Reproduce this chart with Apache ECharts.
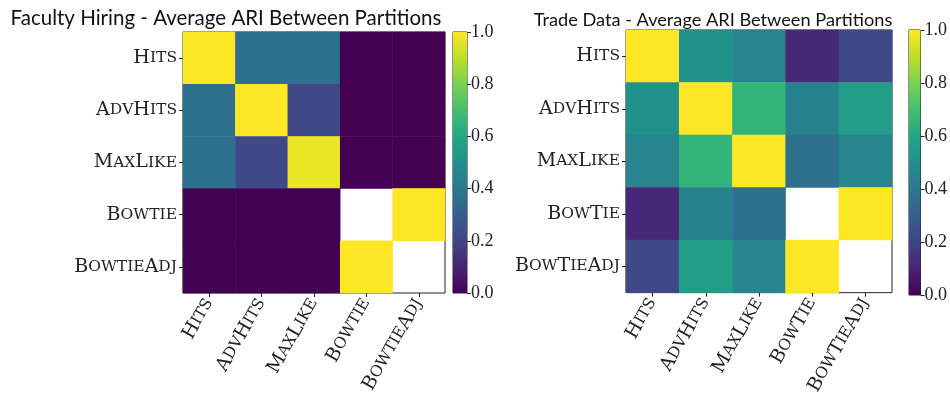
<!DOCTYPE html>
<html><head><meta charset="utf-8">
<script src="https://cdn.jsdelivr.net/npm/echarts@6/dist/echarts.min.js"></script>
<style>html,body{margin:0;padding:0;background:#fff}#c{width:950px;height:398px}</style>
</head><body><div id="c"></div>
<script>
const leftTitle = 'Faculty Hiring - Average ARI Between Partitions';
const rightTitle = 'Trade Data - Average ARI Between Partitions';
const leftLabels = ['Hits','AdvHits','MaxLike','Bowtie','BowtieAdj'];
const rightLabels = ['Hits','AdvHits','MaxLike','BowTie','BowTieAdj'];
const leftMatrix = [
  [1.00, 0.37, 0.37, 0.00, 0.00],
  [0.37, 1.00, 0.22, 0.00, 0.00],
  [0.37, 0.22, 0.97, 0.00, 0.00],
  [0.00, 0.00, 0.00, null, 1.00],
  [0.00, 0.00, 0.00, 1.00, null]
];
const rightMatrix = [
  [1.00, 0.50, 0.45, 0.11, 0.22],
  [0.50, 1.00, 0.65, 0.44, 0.55],
  [0.45, 0.65, 1.00, 0.37, 0.45],
  [0.11, 0.44, 0.37, null, 1.00],
  [0.22, 0.55, 0.45, 1.00, null]
];
const colorbarTicks = [0.0, 0.2, 0.4, 0.6, 0.8, 1.0];
const viridis = ['#440154','#482475','#414487','#355f8d','#2a788e','#21918c','#22a884','#44bf70','#7ad151','#bddf26','#fde725'];

function smallCaps(s){
  let out='';
  for(const ch of s){
    if(ch>='A'&&ch<='Z') out+='{b|'+ch+'}';
    else out+='{s|'+ch.toUpperCase()+'}';
  }
  return out;
}
const serif = 'DejaVu Serif';
const rich = {
  b:{fontFamily:serif,fontSize:19,color:'#222'},
  s:{fontFamily:serif,fontSize:15.5,color:'#222'},
  n:{fontFamily:'Liberation Serif',fontSize:18,color:'#222'}
};

function toData(m){
  const d=[];
  m.forEach((row,i)=>row.forEach((v,j)=>d.push([j,i,v===null?'-':v])));
  return d;
}
const grids = [
  {left:183, top:32, width:262, height:261},
  {left:453, top:32, width:14, height:261},
  {left:626, top:30, width:266, height:265},
  {left:909, top:30, width:14, height:265}
];
const tickStyle = {show:true, length:4, inside:false, lineStyle:{color:'#222', width:1}};
const xAxis=[], yAxis=[], series=[];
[[leftLabels,leftMatrix,0],[rightLabels,rightMatrix,2]].forEach(([labels,m,gi],k)=>{
  xAxis.push({type:'category', gridIndex:gi, data:labels, axisLine:{show:false}, axisTick:Object.assign({alignWithLabel:true},tickStyle), splitLine:{show:false},
    axisLabel:{rotate:60, margin:7, interval:0, fontFamily:serif, formatter:v=>smallCaps(v), rich}});
  yAxis.push({type:'category', gridIndex:gi, data:labels, inverse:true, axisLine:{show:false}, axisTick:Object.assign({alignWithLabel:true},tickStyle), splitLine:{show:false},
    axisLabel:{margin:6, interval:0, fontFamily:serif, formatter:v=>smallCaps(v), rich}});
  series.push({type:'heatmap', xAxisIndex:xAxis.length-1, yAxisIndex:yAxis.length-1, data:toData(m), itemStyle:{borderWidth:0}, emphasis:{disabled:true}, animation:false});
});
[1,3].forEach(gi=>{
  xAxis.push({type:'category', gridIndex:gi, data:['c'], show:false});
  yAxis.push({type:'value', gridIndex:gi, min:0, max:1, interval:0.2, position:'right', splitLine:{show:false},
    axisLine:{show:false}, axisTick:tickStyle,
    axisLabel:{margin:4, fontFamily:'Liberation Serif', fontSize:18, color:'#222', formatter:v=>'{n|'+v.toFixed(1)+'}', rich}});
  series.push({type:'bar', xAxisIndex:xAxis.length-1, yAxisIndex:yAxis.length-1, data:[1], barWidth:'100%', silent:true, animation:false,
    itemStyle:{color:{type:'linear',x:0,y:1,x2:0,y2:0,colorStops:viridis.map((c,i)=>({offset:i/(viridis.length-1),color:c}))}}});
});
const chart = echarts.init(document.getElementById('c'), null, {renderer:'canvas'});
chart.setOption({
  animation:false,
  textStyle:{fontFamily:serif},
  title:[
    {text:leftTitle, left:221, top:3, textAlign:'center', textStyle:{fontFamily:'Lato', fontWeight:'normal', fontSize:20.5, color:'#111'}},
    {text:rightTitle, left:708, top:6, textAlign:'center', textStyle:{fontFamily:'Lato', fontWeight:'normal', fontSize:18.2, color:'#111'}}
  ],
  grid: grids.map(g=>Object.assign({show:true, borderColor:'#222', borderWidth:1, backgroundColor:'transparent', containLabel:false}, g)),
  xAxis, yAxis, series,
  visualMap:[
    {type:'continuous', show:false, min:0, max:1, seriesIndex:0, inRange:{color:viridis}},
    {type:'continuous', show:false, min:0, max:1, seriesIndex:1, inRange:{color:viridis}}
  ]
});
</script></body></html>
